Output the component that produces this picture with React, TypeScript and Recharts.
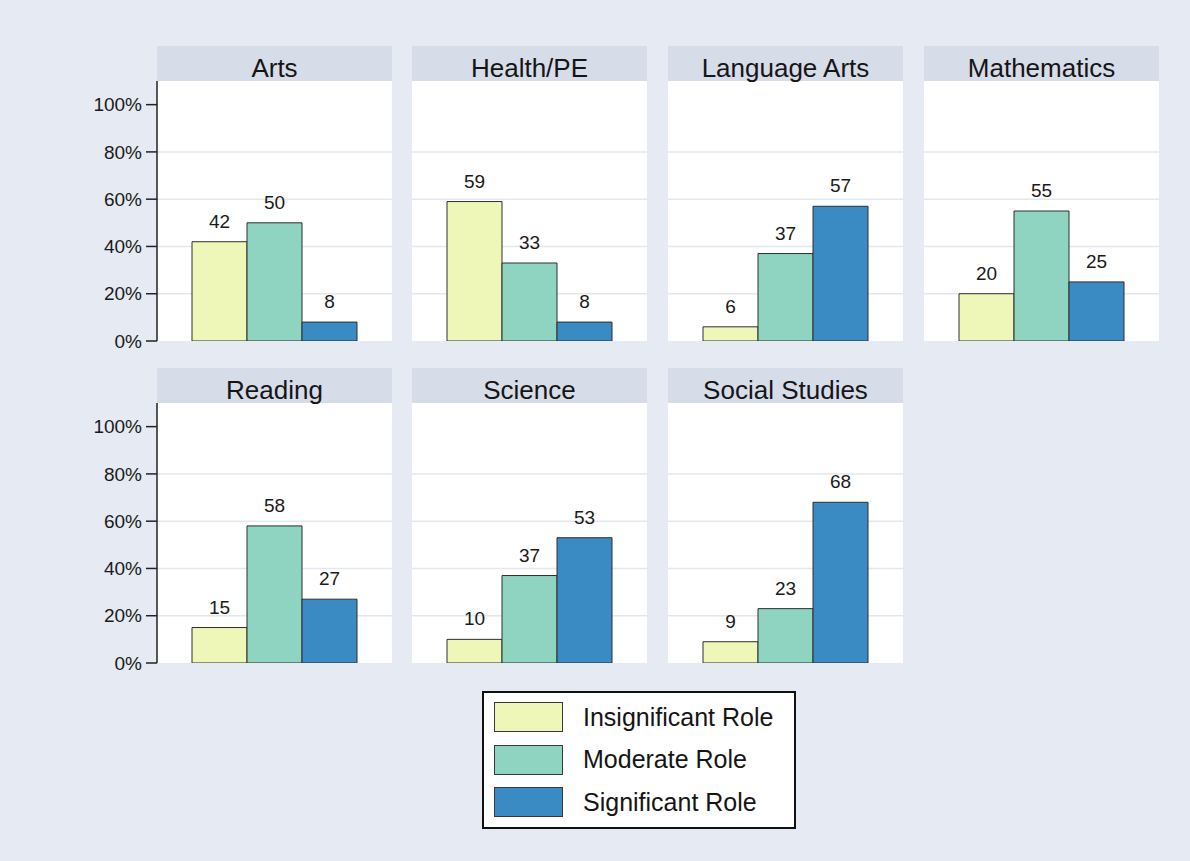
import React from 'react';
import { BarChart, Bar, XAxis, YAxis, CartesianGrid, LabelList } from 'recharts';

const subjects = ['Arts', 'Health/PE', 'Language Arts', 'Mathematics', 'Reading', 'Science', 'Social Studies'];
const insignificantRole = [42, 59, 6, 20, 15, 10, 9];
const moderateRole = [50, 33, 37, 55, 58, 37, 23];
const significantRole = [8, 8, 57, 25, 27, 53, 68];
const seriesNames = ['Insignificant Role', 'Moderate Role', 'Significant Role'];
const seriesKeys = ['ins', 'mod', 'sig'];
const yTicks = [0, 20, 40, 60, 80, 100];
const gridValues = [20, 40, 60, 80];

const COLORS = ['#eef6b8', '#8fd4c1', '#3a8bc4'];
const BG = '#e6eaf3';
const HEADER_BG = '#d7dce9';
const FONT = '"Liberation Sans", Arial, Helvetica, sans-serif';

const PANEL_LEFT = [157, 412, 668, 924];
const ROW_TOP = [46, 368];
const PANEL_W = 235;
const HEADER_H = 35;
const PLOT_H = 260;
const Y_AXIS_W = 97;

function Panel({ idx }: { idx: number }) {
  const col = idx % 4;
  const row = Math.floor(idx / 4);
  const left = PANEL_LEFT[col];
  const headerTop = ROW_TOP[row];
  const plotTop = headerTop + HEADER_H;
  const showY = col === 0;
  const yW = showY ? Y_AXIS_W : 0;
  const data = [
    {
      name: subjects[idx],
      ins: insignificantRole[idx],
      mod: moderateRole[idx],
      sig: significantRole[idx],
    },
  ];
  const mTop = 5;
  const mBottom = 20;
  return (
    <>
      <div style={{ position: 'absolute', left: left - yW, top: plotTop - mTop, zIndex: 1 }}>
        <BarChart
          width={PANEL_W + yW}
          height={PLOT_H + mTop + mBottom}
          data={data}
          margin={{ top: mTop, right: 0, bottom: mBottom, left: 0 }}
          barCategoryGap={35}
          barGap={0}
        >
          <CartesianGrid
            fill="#ffffff"
            fillOpacity={1}
            stroke="#e3e7f0"
            strokeWidth={1.5}
            vertical={false}
            horizontalValues={gridValues}
          />
          <XAxis
            dataKey="name"
            tick={false}
            tickLine={false}
            axisLine={{ stroke: '#333', strokeWidth: 1.5 }}
            height={0}
          />
          <YAxis
            hide={!showY}
            width={yW}
            domain={[0, 110]}
            ticks={yTicks}
            interval={0}
            allowDataOverflow
            tickFormatter={(v: number) => `${v}%`}
            tickSize={11}
            tickMargin={4}
            tickLine={{ stroke: '#222', strokeWidth: 1.5 }}
            axisLine={{ stroke: '#222', strokeWidth: 1.5 }}
            tick={{ fill: '#1a1a1a', fontSize: 19, fontFamily: FONT }}
          />
          {seriesKeys.map((k, i) => (
            <Bar
              key={k}
              dataKey={k}
              name={seriesNames[i]}
              fill={COLORS[i]}
              stroke="#2e2e2e"
              strokeWidth={1}
              isAnimationActive={false}
            >
              <LabelList
                dataKey={k}
                position="top"
                offset={14}
                fill="#1a1a1a"
                fontSize={19}
                fontFamily={FONT}
              />
            </Bar>
          ))}
        </BarChart>
      </div>
      <div
        style={{
          position: 'absolute',
          left,
          top: headerTop,
          width: PANEL_W,
          height: HEADER_H,
          background: HEADER_BG,
          textAlign: 'center',
          fontFamily: FONT,
          fontSize: 26,
          color: '#151515',
          zIndex: 2,
        }}
      >
        <div style={{ lineHeight: '26px', paddingTop: 9, whiteSpace: 'nowrap' }}>{subjects[idx]}</div>
      </div>
    </>
  );
}

function Legend() {
  return (
    <div
      style={{
        position: 'absolute',
        left: 482,
        top: 691,
        width: 314,
        height: 138,
        boxSizing: 'border-box',
        border: '2px solid #111',
        background: '#ffffff',
        fontFamily: FONT,
      }}
    >
      {seriesNames.map((n, i) => (
        <div
          key={n}
          style={{
            position: 'absolute',
            left: 10,
            top: 9 + i * 42.5,
            height: 30,
            display: 'flex',
            alignItems: 'center',
          }}
        >
          <div
            style={{
              width: 69,
              height: 30,
              boxSizing: 'border-box',
              background: COLORS[i],
              border: '1px solid #3a3a3a',
            }}
          />
          <div style={{ marginLeft: 20, fontSize: 25, color: '#151515', whiteSpace: 'nowrap' }}>{n}</div>
        </div>
      ))}
    </div>
  );
}

export default function App() {
  return (
    <div
      style={{
        position: 'absolute',
        left: 0,
        top: 0,
        width: 1190,
        height: 861,
        background: BG,
        overflow: 'hidden',
      }}
    >
      {subjects.map((_, i) => (
        <Panel key={i} idx={i} />
      ))}
      <Legend />
    </div>
  );
}
